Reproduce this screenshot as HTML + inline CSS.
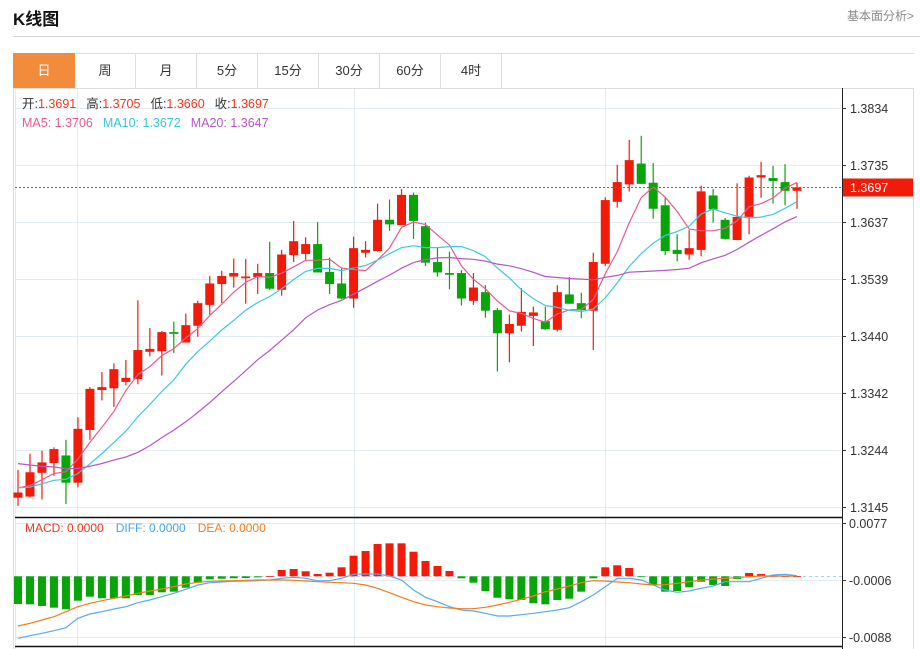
<!DOCTYPE html>
<html><head><meta charset="utf-8">
<style>
html,body{margin:0;padding:0;background:#fff;}
body{width:920px;height:649px;overflow:hidden;position:relative;font-family:"Liberation Sans","Noto Sans CJK SC",sans-serif;}
.title{position:absolute;left:13px;top:5px;font-size:17px;font-weight:bold;color:#111;}
.rule{position:absolute;left:13px;top:36px;width:907px;height:1px;background:#d5d5d5;}
.more{position:absolute;right:6px;top:7px;font-size:12px;color:#888;}
.tabs{position:absolute;left:13px;top:53px;height:35px;display:flex;}
.tab{width:60px;height:34px;border:1px solid #ddd;border-left:none;text-align:center;line-height:34px;font-size:13px;color:#333;background:#fff;}
.tab.on{background:#f28c3c;color:#fff;border-color:#f28c3c;}
.tabline{position:absolute;left:13px;top:53px;width:901px;height:1px;background:#ddd;}
svg{position:absolute;left:0;top:0;}
</style></head><body>
<div class="title">K线图</div>
<div class="rule"></div>
<div class="more">基本面分析&gt;</div>
<div class="tabline"></div>
<div class="tabs">
<div class="tab on" style="border-left:1px solid #f28c3c">日</div>
<div class="tab">周</div>
<div class="tab">月</div>
<div class="tab">5分</div>
<div class="tab">15分</div>
<div class="tab">30分</div>
<div class="tab">60分</div>
<div class="tab">4时</div>
</div>
<svg id="chart" width="920" height="649" xmlns="http://www.w3.org/2000/svg">
<line x1="913.5" y1="88" x2="913.5" y2="649" stroke="#ddd"/>
<line x1="13.5" y1="88" x2="13.5" y2="649" stroke="#ddd"/>
<line x1="15.5" y1="88" x2="15.5" y2="649" stroke="#e4ecf2"/>
<line x1="13" y1="88.5" x2="914" y2="88.5" stroke="#ddd"/>
<g id="grid"></g>
<g id="macdg"></g>
<g id="candles"></g>
<g id="mas"></g>
<line x1="15" y1="517.5" x2="842" y2="517.5" stroke="#111" stroke-width="1.5"/>
<line x1="15" y1="646.5" x2="842" y2="646.5" stroke="#111" stroke-width="1.5"/>
<line x1="842.5" y1="88" x2="842.5" y2="649" stroke="#222"/>
<g id="axis"></g>
<text x="22" y="108" font-size="12.5"><tspan fill="#333">开:</tspan><tspan fill="#f2361c">1.3691</tspan><tspan fill="#333" dx="10">高:</tspan><tspan fill="#f2361c">1.3705</tspan><tspan fill="#333" dx="10">低:</tspan><tspan fill="#f2361c">1.3660</tspan><tspan fill="#333" dx="10">收:</tspan><tspan fill="#f2361c">1.3697</tspan></text>
<text x="22" y="127" font-size="12.5"><tspan fill="#ec5a8c">MA5: 1.3706</tspan><tspan fill="#38c6dc" dx="10">MA10: 1.3672</tspan><tspan fill="#b757c8" dx="10">MA20: 1.3647</tspan></text>
<text x="25" y="532" font-size="12"><tspan fill="#f2361c">MACD: 0.0000</tspan><tspan fill="#4aa3f0" dx="12">DIFF: 0.0000</tspan><tspan fill="#f57c1f" dx="12">DEA: 0.0000</tspan></text>
</svg>
<script>
const NS="http://www.w3.org/2000/svg";
const opens=[1.3161,1.3163,1.3204,1.3221,1.3234,1.3187,1.3278,1.3347,1.3350,1.3361,1.3366,1.3413,1.3414,1.3447,1.3429,1.3458,1.3494,1.3530,1.3543,1.3540,1.3542,1.3549,1.3520,1.3580,1.3582,1.3599,1.3551,1.3531,1.3505,1.3584,1.3587,1.3641,1.3632,1.3684,1.3630,1.3568,1.3549,1.3549,1.3501,1.3516,1.3485,1.3445,1.3458,1.3475,1.3466,1.3451,1.3512,1.3497,1.3484,1.3565,1.3672,1.3702,1.3738,1.3705,1.3666,1.3589,1.3581,1.3589,1.3683,1.3641,1.3606,1.3646,1.3714,1.3713,1.3706,1.3691];
const closes=[1.3170,1.3205,1.3222,1.3245,1.3187,1.3280,1.3349,1.3352,1.3383,1.3368,1.3416,1.3418,1.3447,1.3444,1.3459,1.3497,1.3531,1.3544,1.3549,1.3543,1.3549,1.3522,1.3581,1.3604,1.3599,1.3550,1.3530,1.3505,1.3592,1.3589,1.3641,1.3633,1.3684,1.3639,1.3567,1.3550,1.3546,1.3505,1.3524,1.3484,1.3445,1.3461,1.3482,1.3481,1.3452,1.3516,1.3496,1.3485,1.3568,1.3675,1.3706,1.3744,1.3703,1.3660,1.3587,1.3582,1.3592,1.3690,1.3659,1.3608,1.3646,1.3714,1.3718,1.3708,1.3691,1.3697];
const highs=[1.3209,1.3237,1.3242,1.3248,1.3261,1.3300,1.3352,1.3378,1.3393,1.3399,1.3502,1.3454,1.3449,1.3465,1.3479,1.3501,1.3544,1.3553,1.3574,1.3573,1.3565,1.3603,1.3589,1.3639,1.3611,1.3637,1.3576,1.3558,1.3612,1.3604,1.3669,1.3676,1.3694,1.3688,1.3636,1.3593,1.3586,1.3554,1.3549,1.3528,1.3489,1.3477,1.3523,1.3491,1.3491,1.3528,1.3542,1.3515,1.3584,1.3680,1.3736,1.3779,1.3786,1.3739,1.3680,1.3616,1.3623,1.3700,1.3694,1.3644,1.3704,1.3717,1.3741,1.3734,1.3737,1.3705];
const lows=[1.3147,1.3162,1.3158,1.3199,1.3150,1.3179,1.3261,1.3329,1.3318,1.3355,1.3357,1.3405,1.3372,1.3411,1.3429,1.3439,1.3477,1.3497,1.3524,1.3496,1.3513,1.3520,1.3510,1.3568,1.3572,1.3550,1.3513,1.3504,1.3489,1.3576,1.3586,1.3622,1.3632,1.3608,1.3561,1.3543,1.3521,1.3493,1.3494,1.3472,1.3379,1.3395,1.3448,1.3423,1.3451,1.3448,1.3496,1.3471,1.3416,1.3561,1.3662,1.3690,1.3703,1.3643,1.3580,1.3569,1.3572,1.3578,1.3636,1.3607,1.3606,1.3616,1.3679,1.3669,1.3666,1.3660];
const priorCloses=[1.3255,1.3270,1.3262,1.3250,1.3268,1.3275,1.3258,1.3265,1.3260,1.3257,1.3190,1.3165,1.3185,1.3170,1.3179,1.3185,1.3172,1.3190,1.3173];
const macdHist=[-40.3,-40.8,-43.2,-45.7,-48.0,-35.5,-29.7,-32.0,-32.0,-32.0,-27.2,-27.2,-23.3,-22.4,-16.6,-9.3,-4.4,-3.5,-2.9,-2.5,-1.5,0.5,9.2,10.6,7.3,3.3,5.2,13.1,30.0,36.8,47.0,48.0,48.0,35.8,22.3,15.0,7.7,-2.9,-9.3,-21.4,-31.2,-33.1,-34.5,-39.3,-40.8,-34.5,-32.6,-22.4,-2.9,13.1,16.0,12.1,-1.0,-13.1,-22.4,-21.4,-16.0,-7.9,-12.7,-14.1,-3.9,4.8,3.3,0.5,0.3,0.1];
const diffVals=[-90.3,-86.5,-83.0,-79.2,-74.8,-61.2,-54.9,-51.5,-47.6,-44.3,-38.4,-34.5,-29.7,-24.8,-18.9,-12.7,-9.3,-8.3,-7.3,-6.8,-6.4,-5.4,-2.9,-1.5,-2.9,-6.4,-6.4,-2.9,2.9,3.3,3.3,0.4,-5.4,-19.9,-30.6,-37.0,-44.3,-49.1,-50.5,-53.9,-57.8,-57.8,-55.9,-53.9,-51.5,-49.1,-45.7,-37.0,-27.2,-15.1,-2.9,-2.9,-5.4,-12.7,-19.9,-23.3,-21.4,-17.5,-14.1,-7.9,-7.9,-7.9,-2.9,1.9,2.9,0.9];
const deaVals=[-72.4,-68.4,-63.6,-58.8,-51.5,-44.3,-39.3,-35.5,-32.0,-28.7,-24.8,-21.4,-18.5,-15.1,-11.2,-8.7,-7.3,-6.8,-6.4,-5.8,-5.4,-5.4,-5.4,-5.8,-6.8,-7.9,-8.7,-9.3,-10.2,-12.7,-17.5,-23.9,-30.6,-37.0,-41.8,-44.3,-46.2,-47.2,-47.2,-45.1,-41.8,-37.9,-33.5,-28.7,-22.4,-18.5,-14.1,-9.3,-6.4,-6.8,-8.3,-9.3,-11.2,-12.7,-12.2,-10.2,-7.9,-5.4,-3.9,-2.9,-2.0,-0.6,0.4,0.4,0.4,0.4];
const priceTicks=[1.3834,1.3735,1.3637,1.3539,1.3440,1.3342,1.3244,1.3145];
const priceTickLabels=["1.3834","1.3735","1.3637","1.3539","1.3440","1.3342","1.3244","1.3145"];
const macdTicks=[77,-6,-88];
const macdTickLabels=["0.0077","-0.0006","-0.0088"];
const lastPrice=1.3697;

const xOf=i=>18+i*11.985;
const yP=p=>108+(1.3834-p)*5791;
const yM=v=>576.3-v*0.6867;
function mk(tag,attrs,parent){const e=document.createElementNS(NS,tag);for(const k in attrs)e.setAttribute(k,attrs[k]);parent.appendChild(e);return e;}
const grid=document.getElementById('grid'),axis=document.getElementById('axis');
priceTicks.forEach((t,i)=>{const y=Math.round(yP(t))+0.5;
 const g=mk('line',{x1:15,x2:842,y1:y,y2:y,stroke:'#e4ecf2'},grid);
 
 
 const tk=mk('line',{x1:842,x2:846,y1:y,y2:y,stroke:'#333'},axis);
 
 
 const tx=mk('text',{x:850,y:y+4.5,'font-size':12.5,fill:'#333'},axis);tx.textContent=priceTickLabels[i];
 
 
});
macdTicks.forEach((t,i)=>{const y=Math.round(yM(t))+0.5;
 const g=mk('line',{x1:15,x2:842,y1:y,y2:y,stroke:'#e4ecf2'},grid);
 
 
 const tk=mk('line',{x1:842,x2:846,y1:y,y2:y,stroke:'#333'},axis);
 
 
 const tx=mk('text',{x:849,y:y+4.5,'font-size':12.5,fill:'#333'},axis);tx.textContent=macdTickLabels[i];
 
 
});
[77.5,354.5,605.5].forEach(x=>{const v=mk('line',{x1:x,x2:x,y1:89,y2:646,stroke:'#e4ecf2'},grid);
 
 });
const ly=Math.round(yP(lastPrice))+0.5;
const lpl=mk('line',{x1:15,x2:842,y1:ly,y2:ly,stroke:'#f2361c','stroke-dasharray':'2,2'},axis);


const lpb=mk('rect',{x:843,y:ly-9,width:70,height:18,fill:'#f21b0a'},axis);


const lpt=mk('text',{x:850,y:ly+4.5,'font-size':12.5,fill:'#fff'},axis);lpt.textContent=lastPrice.toFixed(4);


const cg=document.getElementById('candles');
opens.forEach((o,i)=>{const c=closes[i],up=c>=o,col=up?'#f21b0a':'#08a508',x=xOf(i);
 const w=mk('line',{x1:x,x2:x,y1:yP(highs[i]),y2:yP(lows[i]),stroke:col,'stroke-width':1.2},cg);
 
 
 const t=yP(Math.max(o,c)),b=yP(Math.min(o,c));
 const r=mk('rect',{x:x-4.5,y:t,width:9,height:Math.max(1.5,b-t),fill:col},cg);
 
 
});
const all=priorCloses.concat(closes);
function ma(n){return closes.map((_,i)=>{const j=i+priorCloses.length;let s=0;for(let k=j-n+1;k<=j;k++)s+=all[k];return s/n;});}
const mg=document.getElementById('mas');
[[5,'#ec5a8c','ma5-line'],[10,'#40c8de','ma10-line'],[20,'#b757c8','ma20-line']].forEach(([n,col,name])=>{
 const pts=ma(n).map((v,i)=>xOf(i).toFixed(1)+','+yP(v).toFixed(1)).join(' ');
 const pl=mk('polyline',{points:pts,fill:'none',stroke:col,'stroke-width':1.2},mg);
 
 
});
const mcg=document.getElementById('macdg');
const zl=mk('line',{x1:797,x2:842,y1:576.5,y2:576.5,stroke:'#9fd4ef','stroke-dasharray':'3,3'},mcg);


const zl2=mk('line',{x1:15,x2:797,y1:576.5,y2:576.5,stroke:'#bfe2f2','stroke-dasharray':'3,3'},mcg);


macdHist.forEach((v,i)=>{const y0=yM(0),y1=yM(v);
 const r=mk('rect',{x:xOf(i)-4,y:Math.min(y0,y1),width:8,height:Math.max(0.8,Math.abs(y1-y0)),fill:v>=0?'#f21b0a':'#08a508'},mcg);
 
 
});
[[diffVals,'#58aaf0','diff-line'],[deaVals,'#f57c1f','dea-line']].forEach(([arr,col,name])=>{
 const pts=arr.map((v,i)=>xOf(i).toFixed(1)+','+yM(v).toFixed(1)).join(' ');
 const pl=mk('polyline',{points:pts,fill:'none',stroke:col,'stroke-width':1.2},mcg);
 
 
});
</script>
</body></html>
